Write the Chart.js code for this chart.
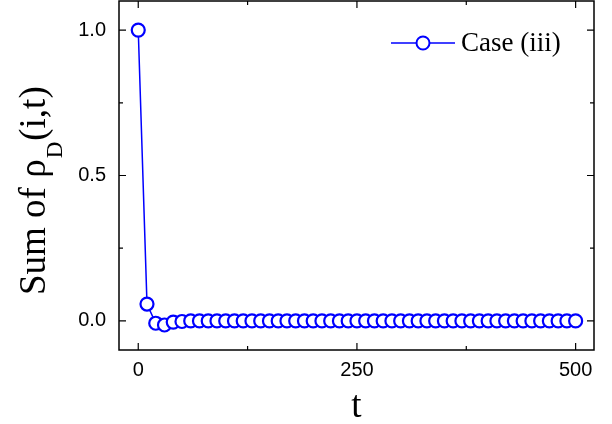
<!DOCTYPE html>
<html>
<head>
<meta charset="utf-8">
<script src="https://cdn.jsdelivr.net/npm/chart.js@4.4.1/dist/chart.umd.min.js"></script>
<style>
  html, body { margin: 0; padding: 0; background: #fff; }
  #wrap { width: 612px; height: 424px; }
</style>
</head>
<body>
<div id="wrap"><canvas id="chart" width="612" height="424"></canvas></div>
<script>
// time steps and the summed density
const tValues = [];
for (let t = 0; t <= 500; t += 10) tValues.push(t);
const sumValues = [
  1.0, 0.058, -0.008, -0.014, -0.004, -0.002, 0, 0, 0, 0,
  0, 0, 0, 0, 0, 0, 0, 0, 0, 0,
  0, 0, 0, 0, 0, 0, 0, 0, 0, 0,
  0, 0, 0, 0, 0, 0, 0, 0, 0, 0,
  0, 0, 0, 0, 0, 0, 0, 0, 0, 0,
  0
];
const xTicks = [0, 250, 500];
const xMinorTicks = [125, 375];
const yTicks = [0, 0.5, 1.0];
const yMinorTicks = [0.25, 0.75];
const seriesLabel = 'Case (iii)';

const BLUE = '#0000ff';
const SERIF = '"Liberation Serif", "Times New Roman", serif';

// frame, inward ticks, axis titles and legend
const decorations = {
  id: 'decorations',
  afterDraw(chart) {
    const { ctx, chartArea: a, scales: { x, y } } = chart;
    ctx.save();
    ctx.strokeStyle = '#000';
    ctx.lineWidth = 1.5;
    ctx.strokeRect(a.left, a.top, a.right - a.left, a.bottom - a.top);

    ctx.lineWidth = 1.2;
    const tick = (vals, len, horiz) => {
      vals.forEach(v => {
        ctx.beginPath();
        if (horiz) {
          const px = x.getPixelForValue(v);
          ctx.moveTo(px, a.bottom); ctx.lineTo(px, a.bottom - len);
          ctx.moveTo(px, a.top); ctx.lineTo(px, a.top + len);
        } else {
          const py = y.getPixelForValue(v);
          ctx.moveTo(a.left, py); ctx.lineTo(a.left + len, py);
          ctx.moveTo(a.right, py); ctx.lineTo(a.right - len, py);
        }
        ctx.stroke();
      });
    };
    tick(xTicks, 7, true);
    tick(xMinorTicks, 4, true);
    tick(yTicks, 7, false);
    tick(yMinorTicks, 4, false);

    // x title
    ctx.fillStyle = '#000';
    ctx.font = '37px ' + SERIF;
    ctx.textAlign = 'center';
    ctx.textBaseline = 'alphabetic';
    ctx.fillText('t', (a.left + a.right) / 2, 417);

    // y title with subscript
    ctx.save();
    ctx.translate(45, 295);
    ctx.rotate(-Math.PI / 2);
    ctx.textAlign = 'left';
    ctx.font = '37px ' + SERIF;
    let cx = 0;
    const main1 = 'Sum of \u03c1';
    ctx.fillText(main1, cx, 0);
    cx += ctx.measureText(main1).width;
    ctx.font = '23px ' + SERIF;
    ctx.fillText('D', cx + 1, 17);
    cx += ctx.measureText('D').width + 2;
    ctx.font = '37px ' + SERIF;
    ctx.fillText('(i,t)', cx, 0);
    ctx.restore();

    // legend
    const ly = 43;
    ctx.strokeStyle = BLUE;
    ctx.lineWidth = 1.5;
    ctx.beginPath();
    ctx.moveTo(391, ly); ctx.lineTo(455, ly);
    ctx.stroke();
    ctx.fillStyle = '#fff';
    ctx.lineWidth = 2;
    ctx.beginPath();
    ctx.arc(423, ly, 6.5, 0, Math.PI * 2);
    ctx.fill();
    ctx.stroke();
    ctx.fillStyle = '#000';
    ctx.font = '27px ' + SERIF;
    ctx.textAlign = 'left';
    ctx.fillText(seriesLabel, 461, 51);
    ctx.restore();
  }
};

new Chart(document.getElementById('chart'), {
  type: 'line',
  data: {
    datasets: [{
      label: seriesLabel,
      data: tValues.map((t, i) => ({ x: t, y: sumValues[i] })),
      borderColor: BLUE,
      borderWidth: 1.5,
      pointRadius: 6.5,
      pointBorderWidth: 2.2,
      pointBorderColor: BLUE,
      pointBackgroundColor: '#fff',
      tension: 0
    }]
  },
  options: {
    responsive: false,
    animation: false,
    clip: false,
    layout: { autoPadding: false, padding: { top: 1, right: 18, left: 0, bottom: 0 } },
    plugins: { legend: { display: false }, tooltip: { enabled: false } },
    scales: {
      x: {
        type: 'linear',
        min: -22,
        max: 521,
        afterBuildTicks: s => { s.ticks = xTicks.map(v => ({ value: v })); },
        afterFit: s => { s.height = 74; s.paddingLeft = 0; s.paddingRight = 0; },
        grid: { display: false, drawTicks: false },
        border: { display: false },
        ticks: {
          color: '#000',
          padding: 8,
          maxRotation: 0,
          font: { family: '"Liberation Sans", Arial, sans-serif', size: 20 }
        }
      },
      y: {
        min: -0.1,
        max: 1.1,
        afterBuildTicks: s => { s.ticks = yTicks.map(v => ({ value: v })); },
        afterFit: s => { s.width = 119; s.paddingTop = 0; s.paddingBottom = 0; },
        grid: { display: false, drawTicks: false },
        border: { display: false },
        ticks: {
          color: '#000',
          padding: 13,
          font: { family: '"Liberation Sans", Arial, sans-serif', size: 20 },
          callback: v => Number(v).toFixed(1)
        }
      }
    }
  },
  plugins: [decorations]
});
</script>
</body>
</html>
